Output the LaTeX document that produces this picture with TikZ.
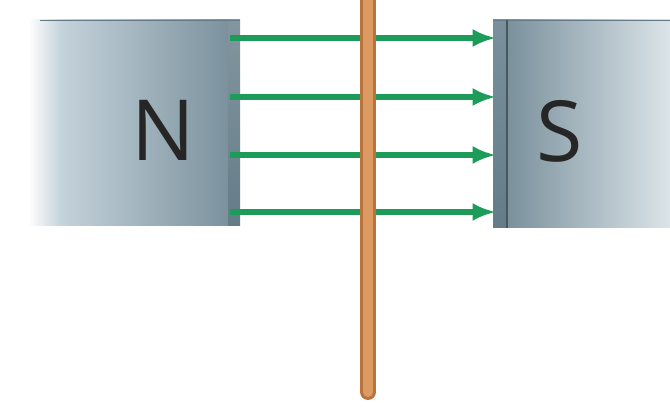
\documentclass[tikz,border=0pt]{standalone}
\usepackage{fontspec}
\setsansfont{Open Sans}
\usetikzlibrary{arrows.meta}

\definecolor{steellight}{HTML}{C4D2DA}
\definecolor{steelmid}{HTML}{9FB3BE}
\definecolor{steeldark}{HTML}{7A919D}
\definecolor{steelside}{HTML}{647C88}
\definecolor{fieldgreen}{HTML}{1C9C58}
\definecolor{copper}{HTML}{DB9A62}
\definecolor{copperdark}{HTML}{B8733F}

\tikzset{
  field/.style={fieldgreen,line width=5.5pt*0.5692,-{Latex[length=4.4mm*0.5692*3/1.6,width=3.4mm*0.5692*3/1.6]}},
  pole/.style={font=\sffamily\fontsize{48}{50}\selectfont,text=black!85}
}

\begin{document}
\begin{tikzpicture}[x=0.02cm,y=-0.02cm]
    \useasboundingbox (0,0) rectangle (670,408);
    \clip (0,0) rectangle (670,408);

    % north pole block, fading out to the left
    \shade[left color=white,right color=steellight] (28,20) rectangle (62,226);
    \shade[left color=steellight,right color=steeldark] (62,20) rectangle (230,226);
    \shade[top color=steelside!80,bottom color=steelside] (228,20) rectangle (240,226);
    \draw[steelside,line width=1pt] (40,20.5) -- (240,20.5);

    % south pole block, fading out to the right
    \shade[top color=steeldark,bottom color=steelside] (493,20) rectangle (507,228);
    \shade[left color=steeldark,right color=steellight!60] (507,20) rectangle (670,228);
    \draw[steelside,line width=1pt] (493,20.5) -- (670,20.5);
    \draw[steelside!70!black,line width=0.8pt] (507,20) -- (507,228);

    \node (N) at (163,130) [pole] {N};
    \node (S) at (560,131) [pole] {S};

    % field lines from N to S
    \coordinate (nface) at (230,0);
    \coordinate (sface) at (496,0);
    \foreach \y in {38,97,155,212}
      \draw[field] (nface |- 0,\y) -- (sface |- 0,\y);

    % copper rod
    \coordinate (rodtop) at (368,-20);
    \coordinate (rodend) at (368,392);
    \draw[copperdark,line width=16pt*0.5692,line cap=round] (rodtop) -- (rodend);
    \draw[copper,line width=10pt*0.5692,line cap=round] (rodtop) -- (rodend);
  \end{tikzpicture}
\end{document}
